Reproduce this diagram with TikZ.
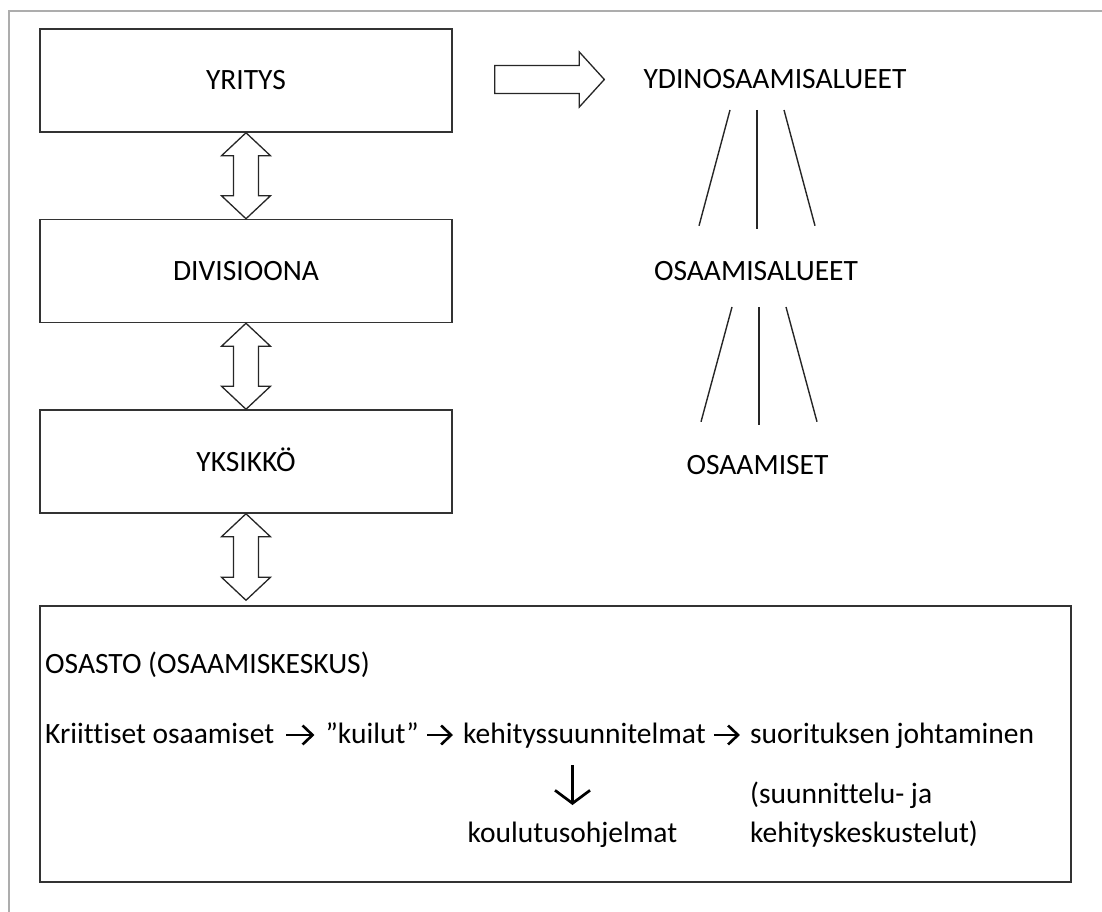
\documentclass[tikz,border=0pt]{standalone}
\usepackage{fontspec}
\setmainfont{Carlito}[Ligatures={NoCommon}]
\usetikzlibrary{calc,arrows.meta}

% hollow two-headed vertical arrow between two points on one vertical
\newcommand\twoway[2]{%
  \draw[hollow] let \p1=(#1), \p2=(#2) in
    (\x1,\y1) -- ++(24.5pt,-23pt) -- ++(-12pt,0pt) -- (\x1+12.5pt,\y2+23pt)
    -- ++(12pt,0pt) -- (\x1,\y2) -- ++(-24.5pt,23pt) -- ++(12pt,0pt)
    -- (\x1-12.5pt,\y1-23pt) -- ++(-12pt,0pt) -- cycle;}

% hollow one-headed horizontal arrow from tail centre #1 to tip #2
\newcommand\oneway[2]{%
  \draw[hollow] let \p1=(#1), \p2=(#2) in
    (\x1,\y2+14pt) -- (\x2-25pt,\y2+14pt) -- (\x2-25pt,\y2+27.5pt) -- (\x2,\y2)
    -- (\x2-25pt,\y2-27.5pt) -- (\x2-25pt,\y2-14pt) -- (\x1,\y2-14pt) -- cycle;}

% three diverging lines from a top point #1 to a bottom point #2
\newcommand\fan[2]{%
  \draw[fanline] ($(#1)+(-27,0)$) -- ($(#2)+(-58,-3)$);
  \draw[fanline] (#1) -- (#2);
  \draw[fanline] ($(#1)+(27,0)$) -- ($(#2)+(58,-3)$);}

\begin{document}
\begin{tikzpicture}[x=1pt,y=-1pt,
  every node/.style={font=\fontsize{29.5pt}{35pt}\selectfont, text=black},
  frameline/.style={draw=black!32, line width=2pt},
  unitbox/.style={draw=black!80, line width=1.5pt, minimum width=412pt,
    minimum height=103pt, inner sep=0pt, text height=19pt, text depth=0pt},
  lbl/.style={inner sep=0pt, text height=19pt, text depth=0pt},
  txt/.style={inner sep=0pt},
  hollow/.style={draw=black!85, line width=1.3pt, fill=white, line join=miter},
  fanline/.style={draw=black!85, line width=1.4pt},
  flowarrow/.style={draw=black, line width=2.6pt,
    -{Straight Barb[length=10pt,width=19pt]}},
  downarrow/.style={draw=black, line width=2.7pt,
    -{Straight Barb[length=13pt,width=35pt]}}
]
\useasboundingbox (0,0) rectangle (1102,912);

% page frame
\draw[frameline] (9,912) -- (9,11) -- (1102,11);

% organisation levels
\node[unitbox] (yr) at (246,80.5) {YRITYS};
\node[unitbox] (dv) at (246,271) {DIVISIOONA};
\node[unitbox] (yk) at (246,461.5) {YKSIKKÖ};
\node[draw=black!80, line width=1.5pt, minimum width=1031pt,
  minimum height=276pt, inner sep=0pt] (os) at (555.5,744) {};

\twoway{yr.south}{dv.north}
\twoway{dv.south}{yk.north}
\twoway{yk.south}{$(yk.south |- os.north)+(0,-5)$}

% competence hierarchy
\node[lbl, anchor=base] (ydin) at (775,89) {YDINOSAAMISALUEET};
\node[lbl, anchor=base] (osa) at (756,280) {OSAAMISALUEET};
\node[lbl, anchor=base] (osm) at (757.5,474) {OSAAMISET};

\oneway{$(yr.east)+(42,0)$}{$(ydin.west)+(-39,0)$}

\coordinate (f1t) at ($(ydin.base -| osa.base)+(1,21)$);
\coordinate (f1b) at ($(f1t |- osa.north)+(0,-32)$);
\coordinate (f2t) at ($(osa.base)+(3,27)$);
\coordinate (f2b) at ($(f2t |- osm.north)+(0,-30)$);
\fan{f1t}{f1b}
\fan{f2t}{f2b}

% department contents
\node[txt, anchor=base west] (head) at (45,673) {OSASTO (OSAAMISKESKUS)};
\node[txt, anchor=base west] (k1) at (45,743) {Kriittiset osaamiset};
\node[txt, anchor=base west] (k2) at ($(k1.base east)+(51,0)$) {”kuilut”};
\node[txt, anchor=base west] (k3) at ($(k2.base east)+(44,0)$) {kehityssuunnitelmat};
\node[txt, anchor=base west] (k4) at ($(k3.base east)+(44,0)$) {suorituksen johtaminen};
\draw[flowarrow] ($(k1.base east)+(12,-8)$) -- ($(k2.base west)+(-11,-8)$);
\draw[flowarrow] ($(k2.base east)+(8,-8)$) -- ($(k3.base west)+(-10,-8)$);
\draw[flowarrow] ($(k3.base east)+(8,-8)$) -- ($(k4.base west)+(-10,-8)$);

\node[txt, anchor=base] (kou) at (572.5,842) {koulutusohjelmat};
\draw[downarrow] ($(k3.base -| kou.base)+(0,22)$) -- ($(kou.base)+(0,-37)$);

\node[txt, anchor=base west] (sj1) at ($(k4.base west)+(0,60)$) {(suunnittelu- ja};
\node[txt, anchor=base west] (sj2) at ($(k4.base west)+(0,99)$) {kehityskeskustelut)};
\end{tikzpicture}
\end{document}
